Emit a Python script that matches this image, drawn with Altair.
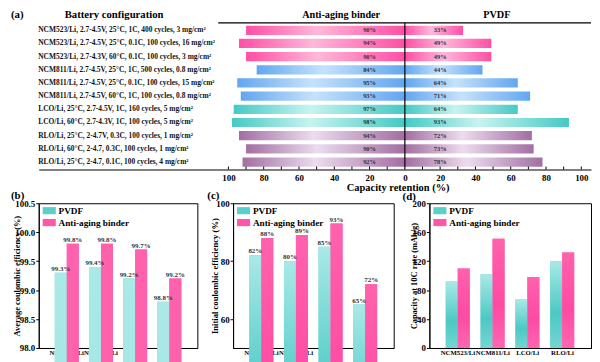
import altair as alt
import pandas as pd

FONT = "Liberation Serif"

# ---------------- data ----------------
configs = [
    "NCM523/Li, 2.7-4.5V, 25°C, 1C, 400 cycles, 3 mg/cm²",
    "NCM523/Li, 2.7-4.5V, 25°C, 0.1C, 100 cycles, 16 mg/cm²",
    "NCM523/Li, 2.7-4.3V, 60°C, 0.1C, 100 cycles, 3 mg/cm²",
    "NCM811/Li, 2.7-4.5V, 25°C, 1C, 500 cycles, 0.8 mg/cm²",
    "NCM811/Li, 2.7-4.5V, 25°C, 0.1C, 100 cycles, 15 mg/cm²",
    "NCM811/Li, 2.7-4.5V, 60°C, 1C, 100 cycles, 0.8 mg/cm²",
    "LCO/Li, 25°C, 2.7-4.5V, 1C, 160 cycles, 5 mg/cm²",
    "LCO/Li, 60°C, 2.7-4.3V, 1C, 100 cycles, 5 mg/cm²",
    "RLO/Li, 25°C, 2-4.7V, 0.3C, 100 cycles, 1 mg/cm²",
    "RLO/Li, 60°C, 2-4.7, 0.3C, 100 cycles, 1 mg/cm²",
    "RLO/Li, 25°C, 2-4.7, 0.1C, 100 cycles, 4 mg/cm²",
]
groups = ["NCM523", "NCM523", "NCM523", "NCM811", "NCM811", "NCM811",
          "LCO", "LCO", "RLO", "RLO", "RLO"]
anti_retention = [90, 94, 90, 84, 95, 93, 97, 98, 94, 90, 92]
pvdf_retention = [33, 49, 49, 44, 64, 71, 64, 93, 72, 73, 78]

cells = ["NCM523/Li", "NCM811/Li", "LCO/Li", "RLO/Li"]
series = ["PVDF", "Anti-aging binder"]
ce_pvdf = [99.3, 99.4, 99.2, 98.8]
ce_anti = [99.8, 99.8, 99.7, 99.2]
ice_pvdf = [82, 80, 85, 65]
ice_anti = [88, 89, 93, 72]
rate_pvdf = [92, 102, 67, 120]
rate_anti = [110, 151, 98, 132]

group_colors = {
    "NCM523": ("#ff4fa5", "#ffb8d9"),
    "NCM811": ("#62a6f0", "#c6e2fb"),
    "LCO": ("#45c9c4", "#c8f3f0"),
    "RLO": ("#a26ea2", "#ecdcee"),
}
TEAL = "#5ccfcb"
PINK = "#ff56aa"


def hgrad(dark, light):
    return alt.Gradient(
        gradient="linear", x1=0, x2=1, y1=0, y2=0,
        stops=[alt.GradientStop(color=dark, offset=0),
               alt.GradientStop(color=light, offset=0.45),
               alt.GradientStop(color=dark, offset=1)])


def vgrad(c0, c1, c2):
    return alt.Gradient(
        gradient="linear", x1=0, x2=0, y1=0, y2=1,
        stops=[alt.GradientStop(color=c0, offset=0),
               alt.GradientStop(color=c1, offset=0.6),
               alt.GradientStop(color=c2, offset=1)])


one = pd.DataFrame({"k": [0]})

# ---------------- panel (a) ----------------
A_W, A_H = 557, 148
rows = []
for c, g, a, p in zip(configs, groups, anti_retention, pvdf_retention):
    rows.append(dict(config=c, group=g, signed=-a, zero=0, label=f"{a}%"))
    rows.append(dict(config=c, group=g, signed=p, zero=0, label=f"{p}%"))
df_a = pd.DataFrame(rows)

xs_a = alt.Scale(domain=[-207.5, 105.5], nice=False, zero=False)
x_a = alt.X("signed:Q", scale=xs_a, axis=alt.Axis(
    values=list(range(-100, 101, 20)), labelExpr="abs(datum.value)",
    ticks=False, domain=True, domainColor="black", domainWidth=1.2,
    labelPadding=4, labelFontSize=9, grid=False,
    title="Capacity retention (%)", titleFontSize=10.5, titleX=362, titleY=18,
    titleBaseline="middle"))
y_a = alt.Y("config:N", sort=configs,
            scale=alt.Scale(paddingInner=0.3, paddingOuter=0.22),
            axis=alt.Axis(title=None, labelAlign="left", labelPadding=1,
                          ticks=False, tickSize=0, domain=False, labelLimit=0,
                          labelFontSize=7.5, labelColor="#111"))

base_a = alt.Chart(df_a)
a_layers = []
for g, (dark, light) in group_colors.items():
    a_layers.append(
        base_a.transform_filter(alt.datum.group == g)
        .mark_bar(color=hgrad(dark, light))
        .encode(x=x_a, x2="zero:Q", y=y_a))
a_layers.append(
    base_a.transform_calculate(lx="datum.signed < 0 ? -20 : 20")
    .mark_text(font=FONT, fontWeight="bold", fontSize=6.5, color="#333")
    .encode(x=alt.X("lx:Q", scale=xs_a), y=y_a, text="label:N"))
a_layers.append(alt.Chart(one).mark_rule(color="black", strokeWidth=1.2)
                .encode(x=alt.datum(0)))
a_layers.append(alt.Chart(one).mark_rule(color="black", strokeWidth=1.2)
                .encode(x=alt.value(181), x2=alt.value(A_W), y=alt.value(0)))
tick_df = pd.DataFrame({"t": [v for v in range(-100, 101, 10) if v != 0]})
a_layers.append(alt.Chart(tick_df).mark_rule(color="black", strokeWidth=1)
                .encode(x=alt.X("t:Q", scale=xs_a), y=alt.value(A_H),
                        y2=alt.value(A_H - 3)))
for txt, px, size, align in [("(a)", -28, 11, "left"),
                             ("Battery configuration", 76, 10.8, "center"),
                             ("Anti-aging binder", 305, 10.3, "center"),
                             ("PVDF", 462, 10.3, "center")]:
    a_layers.append(alt.Chart(one).mark_text(
        text=txt, font=FONT, fontWeight="bold", fontSize=size, align=align,
        baseline="middle", color="black")
        .encode(x=alt.value(px), y=alt.value(-8)))

panel_a = alt.layer(*a_layers).properties(
    width=A_W, height=A_H, view=alt.ViewBackground(strokeWidth=0))


# ---------------- panels (b)-(d) ----------------
def bar_panel(pv, an, domain, ticks, fmt, ytitle, title_size, title_x, letter,
              letter_x, letter_y, labels, width):
    df = pd.DataFrame({
        "cell": cells * 2,
        "series": ["PVDF"] * 4 + ["Anti-aging binder"] * 4,
        "value": pv + an,
    })
    if labels is not None:
        df["label"] = [labels.format(v) for v in pv + an]
    x = alt.X("cell:N", sort=cells,
              scale=alt.Scale(paddingInner=0.3, paddingOuter=0.47),
              axis=alt.Axis(title=None, labelAngle=0, ticks=False,
                            labelFontSize=6.8, labelPadding=2,
                            labelOverlap=False, domainColor="black"))
    xo = alt.XOffset("series:N", sort=series)
    y = alt.Y("value:Q", scale=alt.Scale(domain=domain, nice=False, zero=False),
              axis=alt.Axis(values=ticks, format=fmt, title=ytitle,
                            titleX=title_x, titleBaseline="middle",
                            titleFontSize=title_size, labelFontSize=9,
                            tickSize=3, labelPadding=1, grid=False,
                            domainColor="black"))
    base = alt.Chart(df)
    layers = [
        base.mark_bar().encode(
            x=x, xOffset=xo, y=y,
            color=alt.Color("series:N", sort=series,
                            scale=alt.Scale(domain=series, range=[TEAL, PINK]),
                            legend=alt.Legend(
                                title=None, orient="none", legendX=4.6,
                                legendY=1.5, padding=0,
                                symbolType="M-1.1,-0.6L1.1,-0.6L1.1,0.6L-1.1,0.6Z",
                                symbolSize=144, symbolStrokeWidth=0,
                                symbolOpacity=1, labelFont=FONT,
                                labelFontWeight="bold", labelFontSize=9.3,
                                labelOffset=3.4, rowPadding=0,
                                labelColor="black"))),
        base.transform_filter(alt.datum.series == "PVDF")
        .mark_bar(color=vgrad("#a9e9e7", "#4cc8c5", "#74d6d3"))
        .encode(x=x, xOffset=xo, y=y),
        base.transform_filter(alt.datum.series == "Anti-aging binder")
        .mark_bar(color=vgrad("#ff62ad", "#ff4aa3", "#ff66b0"))
        .encode(x=x, xOffset=xo, y=y),
    ]
    if labels is not None:
        layers.append(base.mark_text(dy=-4, font=FONT, fontWeight="bold",
                                     fontSize=7, color="#333")
                      .encode(x=x, xOffset=xo, y=y, text="label:N"))
    layers.append(alt.Chart(one).mark_text(
        text=letter, font=FONT, fontWeight="bold", fontSize=11, align="left",
        baseline="middle", color="black")
        .encode(x=alt.value(letter_x), y=alt.value(letter_y)))
    return alt.layer(*layers).properties(
        width=width, height=146,
        view=alt.ViewBackground(stroke="black", strokeWidth=1))


panel_b = bar_panel(ce_pvdf, ce_anti, [98.0, 100.5],
                    [98.0, 98.5, 99.0, 99.5, 100.0, 100.5], ".1f",
                    "Average coulombic efficiency (%)", 8.5, -22.5, "(b)", -28,
                    -7, "{:.1f}%", 160)
panel_c = bar_panel(ice_pvdf, ice_anti, [50, 100], [60, 80, 100], "d",
                    "Initial coulombic efficiency (%)", 8.7, -19, "(c)", -26,
                    -7, "{:d}%", 162)
panel_d = bar_panel(rate_pvdf, rate_anti, [0, 200], [0, 40, 80, 120, 160, 200],
                    "d", "Capacity at 10C rate (mAh/g)", 8.5, -16, "(d)", -27,
                    -6, None, 163)

bottom = alt.hconcat(panel_b, panel_c, panel_d, spacing=36, bounds="flush"
                     ).resolve_scale(color="independent")

chart = alt.vconcat(panel_a, bottom, spacing=34, bounds="flush"
                    ).resolve_scale(color="independent").properties(
    padding={"left": 2, "top": -25, "right": 0, "bottom": 12},
    background="white"
).configure_axis(
    labelFont=FONT, labelFontWeight="bold", labelColor="black",
    titleFont=FONT, titleFontWeight="bold", titleColor="black",
    tickColor="black", domainColor="black"
).configure_view(strokeWidth=0)

chart.save("out.html", embed_options={"renderer": "svg", "actions": False})
